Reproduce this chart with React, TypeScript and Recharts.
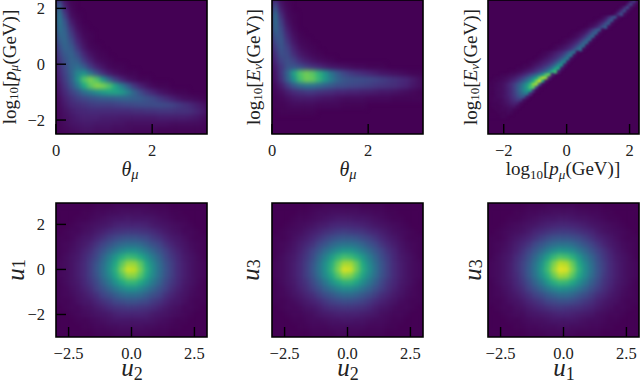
import { ScatterChart, Scatter, XAxis, YAxis, ReferenceArea } from "recharts";

const thetaTicks = [0, 2];
const logTicks = [-2, 0, 2];
const uXTicks = [-2.5, 0, 2.5];
const uYTicks = [-2, 0, 2];

const thetaRange = [0, 3.14];
const logRange = [-2.5, 2.3];
const uXRange = [-3, 3];
const uYRange = [-3, 2.95];

// colormap fraction (0-100) per cell, rows run top to bottom, missing cells are background
const thetaPmu = [
  [26, 7, 1],
  [34, 11, 2],
  [40, 18, 4, 1],
  [40, 26, 8, 2],
  [37, 30, 13, 4, 1],
  [33, 32, 18, 7, 2, 1],
  [28, 33, 23, 10, 4, 1],
  [23, 32, 28, 15, 6, 2, 1],
  [19, 28, 31, 22, 11, 5, 2, 1],
  [16, 25, 32, 29, 17, 9, 4, 2, 1],
  [13, 22, 32, 36, 28, 17, 9, 5, 2, 1, 1],
  [11, 20, 32, 46, 50, 38, 24, 13, 7, 4, 2, 1, 1],
  [9, 18, 30, 50, 72, 80, 72, 52, 32, 18, 10, 5, 3, 1, 1],
  [7, 15, 26, 40, 60, 74, 82, 80, 72, 58, 42, 28, 16, 9, 5, 2, 1, 1],
  [6, 12, 19, 26, 36, 42, 48, 54, 58, 58, 54, 44, 32, 22, 15, 10, 6, 4, 2, 1, 1],
  [4, 9, 14, 18, 21, 24, 26, 28, 29, 30, 31, 31, 30, 28, 25, 22, 17, 13, 9, 6, 4, 3, 2, 1],
  [3, 7, 11, 13, 15, 17, 18, 18, 18, 19, 20, 21, 22, 23, 23, 23, 23, 22, 20, 17, 14, 11, 8, 5],
  [2, 5, 8, 10, 11, 12, 12, 12, 12, 12, 12, 12, 13, 13, 14, 14, 15, 15, 15, 14, 14, 13, 10, 7],
  [2, 4, 6, 8, 9, 9, 9, 8, 8, 8, 7, 7, 7, 7, 7, 7, 8, 8, 8, 8, 8, 7, 6, 4],
  [1, 3, 5, 6, 7, 7, 6, 6, 6, 5, 5, 4, 4, 4, 4, 4, 4, 4, 3, 3, 3, 3, 3, 2],
  [1, 2, 3, 4, 5, 5, 4, 4, 4, 3, 3, 3, 2, 2, 2, 2, 1, 1, 1, 1, 1, 1, 1, 1],
];

const thetaEnu = [
  [18, 5, 1],
  [28, 8, 2],
  [36, 13, 3, 1],
  [36, 18, 5, 1],
  [34, 22, 8, 2],
  [28, 25, 11, 4, 1],
  [23, 27, 15, 6, 2, 1],
  [18, 26, 19, 9, 4, 2, 1],
  [14, 24, 22, 13, 7, 4, 2, 1],
  [11, 20, 24, 19, 12, 8, 5, 3, 2, 1],
  [8, 16, 25, 26, 23, 18, 14, 11, 8, 6, 5, 4, 3, 2, 2, 1, 1, 1],
  [6, 16, 32, 56, 72, 78, 74, 64, 52, 38, 28, 21, 17, 14, 12, 10, 8, 6, 5, 4, 3, 2, 1, 1],
  [5, 14, 30, 50, 70, 78, 76, 66, 54, 42, 32, 27, 25, 24, 23, 22, 20, 18, 16, 14, 12, 10, 7, 4],
  [3, 8, 17, 27, 34, 38, 37, 34, 30, 27, 24, 23, 21, 20, 19, 18, 16, 15, 14, 13, 11, 9, 6, 4],
  [2, 4, 8, 12, 14, 16, 16, 14, 13, 12, 10, 10, 9, 9, 8, 8, 7, 6, 6, 5, 4, 3, 2, 1],
  [1, 2, 4, 6, 7, 7, 7, 6, 5, 5, 4, 3, 3, 3, 3, 2, 2, 2, 2, 1, 1, 1, 1, 1],
  [1, 1, 2, 3, 3, 3, 3, 2, 2, 2, 2, 1, 1, 1, 1],
  [0, 1, 1, 1, 1, 1, 1],
];

// finer grid for the sharp diagonal edge; each row starts at the column in pmuEnuStart
const pmuEnuStart = [45, 44, 42, 41, 40, 36, 34, 32, 31, 29, 27, 26, 24, 23, 21, 20, 17, 16, 15, 13, 11, 9, 7, 4, 2, 1, 0, 0, 0, 0, 0, 0, 0, 0, 0, 0, 0];
const pmuEnu = [
  [8, 18, 3],
  [8, 20, 4],
  [3, 12, 22, 3],
  [4, 14, 24, 3],
  [4, 16, 24, 3],
  [2, 5, 12, 22, 26, 3],
  [1, 3, 6, 12, 24, 26, 2],
  [1, 2, 4, 8, 14, 24, 28, 2],
  [1, 3, 5, 9, 16, 26, 28, 2],
  [1, 3, 5, 10, 18, 27, 28, 2],
  [1, 2, 4, 6, 11, 19, 28, 30, 2],
  [1, 2, 4, 7, 12, 20, 29, 31, 2],
  [1, 2, 3, 5, 8, 13, 21, 30, 32, 2],
  [1, 2, 4, 6, 9, 14, 22, 31, 33, 2],
  [1, 2, 3, 5, 7, 10, 15, 23, 32, 34, 2],
  [1, 2, 4, 6, 8, 11, 16, 24, 33, 35, 2],
  [1, 2, 3, 5, 7, 9, 12, 17, 25, 34, 35, 2],
  [1, 2, 3, 5, 7, 10, 13, 18, 26, 36, 38, 3],
  [1, 2, 4, 6, 8, 11, 14, 19, 28, 38, 40, 3],
  [1, 2, 3, 5, 7, 9, 12, 16, 22, 31, 42, 44, 4],
  [1, 1, 2, 4, 6, 8, 11, 14, 18, 25, 35, 48, 50, 5],
  [1, 1, 2, 3, 5, 7, 10, 13, 17, 22, 29, 40, 55, 60, 6],
  [1, 1, 2, 3, 5, 7, 9, 12, 16, 21, 27, 34, 46, 62, 68, 7],
  [1, 1, 2, 3, 4, 6, 8, 11, 15, 20, 26, 33, 42, 55, 72, 76, 8],
  [1, 1, 2, 3, 4, 6, 8, 11, 15, 20, 27, 35, 45, 58, 76, 88, 82, 8],
  [1, 1, 2, 3, 4, 6, 9, 12, 17, 23, 30, 38, 48, 62, 80, 92, 60, 4],
  [1, 1, 2, 3, 4, 6, 9, 13, 18, 25, 33, 42, 52, 66, 82, 84, 30, 2],
  [1, 1, 2, 3, 4, 6, 9, 13, 19, 27, 36, 45, 56, 70, 74, 20, 1],
  [1, 1, 2, 3, 4, 6, 9, 13, 19, 27, 36, 45, 52, 56, 14, 1],
  [1, 1, 2, 3, 4, 6, 9, 13, 18, 25, 32, 38, 40, 10],
  [1, 1, 2, 3, 4, 6, 8, 12, 16, 21, 26, 24, 6],
  [1, 1, 2, 2, 3, 5, 7, 10, 13, 16, 14, 3],
  [0, 1, 1, 2, 3, 4, 6, 8, 9, 8, 2],
  [0, 1, 1, 1, 2, 3, 4, 5, 5, 2],
  [0, 0, 1, 1, 2, 2, 3, 3, 1],
  [0, 0, 0, 1, 1, 1, 2, 1],
  [0, 0, 0, 0, 1, 1],
];

const u2u1 = [
  [0, 0, 0, 0, 0, 0, 1, 1, 1, 2, 2, 2, 2, 2, 2, 1, 1, 1, 0, 0, 0, 0, 0, 0],
  [0, 0, 0, 0, 1, 1, 2, 2, 3, 3, 4, 4, 4, 4, 3, 3, 2, 2, 1, 1, 0, 0, 0, 0],
  [0, 0, 0, 1, 1, 2, 3, 4, 5, 6, 6, 7, 6, 6, 6, 5, 4, 3, 2, 1, 1, 0, 0, 0],
  [0, 0, 1, 2, 3, 4, 5, 6, 7, 9, 10, 10, 10, 10, 9, 7, 6, 5, 4, 3, 2, 1, 0, 0],
  [0, 1, 2, 2, 4, 5, 7, 9, 12, 14, 15, 16, 16, 15, 14, 12, 9, 7, 5, 4, 2, 2, 1, 0],
  [1, 1, 2, 4, 6, 7, 10, 14, 18, 21, 24, 25, 25, 23, 21, 17, 14, 10, 7, 6, 4, 2, 1, 1],
  [1, 2, 3, 5, 7, 10, 15, 20, 25, 30, 34, 36, 36, 34, 29, 24, 20, 14, 10, 7, 5, 3, 2, 1],
  [1, 2, 4, 6, 9, 13, 19, 26, 33, 40, 46, 50, 50, 45, 39, 32, 25, 19, 13, 9, 6, 4, 2, 1],
  [1, 3, 5, 7, 11, 16, 22, 32, 42, 52, 62, 68, 66, 60, 50, 40, 31, 22, 16, 11, 7, 5, 3, 1],
  [2, 3, 5, 8, 12, 18, 26, 36, 47, 60, 74, 84, 84, 74, 59, 46, 35, 25, 18, 12, 8, 5, 3, 2],
  [2, 3, 5, 8, 12, 18, 27, 37, 49, 63, 80, 92, 90, 78, 62, 48, 36, 26, 18, 12, 8, 5, 3, 2],
  [2, 3, 5, 8, 12, 18, 25, 36, 46, 59, 72, 82, 82, 72, 59, 46, 35, 25, 18, 12, 8, 5, 3, 2],
  [1, 3, 5, 7, 11, 16, 22, 31, 40, 50, 60, 66, 66, 60, 50, 40, 31, 22, 16, 11, 7, 5, 3, 1],
  [1, 2, 4, 6, 9, 13, 19, 25, 32, 39, 45, 50, 50, 45, 39, 32, 25, 19, 13, 9, 6, 4, 2, 1],
  [1, 2, 3, 5, 7, 10, 14, 20, 24, 29, 34, 36, 36, 34, 29, 24, 20, 14, 10, 7, 5, 3, 2, 1],
  [1, 1, 2, 4, 6, 7, 10, 14, 17, 21, 23, 25, 25, 23, 21, 17, 14, 10, 7, 6, 4, 2, 1, 1],
  [0, 1, 2, 2, 4, 5, 7, 9, 12, 14, 15, 16, 16, 15, 14, 12, 9, 7, 5, 4, 2, 2, 1, 0],
  [0, 0, 1, 2, 3, 4, 5, 6, 7, 9, 10, 10, 10, 10, 9, 7, 6, 5, 4, 3, 2, 1, 0, 0],
  [0, 0, 0, 1, 1, 2, 3, 4, 5, 6, 6, 6, 6, 6, 6, 5, 4, 3, 2, 1, 1, 0, 0, 0],
  [0, 0, 0, 0, 1, 1, 2, 2, 3, 3, 4, 4, 4, 4, 3, 3, 2, 2, 1, 1, 0, 0, 0, 0],
  [0, 0, 0, 0, 0, 0, 1, 1, 1, 2, 2, 2, 2, 2, 2, 1, 1, 1, 0, 0, 0, 0, 0, 0],
];

const u2u3 = [
  [0, 0, 0, 0, 0, 0, 1, 1, 2, 2, 2, 2, 2, 2, 1, 1, 1, 1, 0, 0, 0, 0, 0, 0],
  [0, 0, 0, 0, 1, 1, 2, 3, 3, 4, 4, 4, 4, 4, 3, 3, 2, 2, 1, 1, 0, 0, 0, 0],
  [0, 0, 0, 1, 2, 2, 3, 4, 5, 6, 7, 7, 7, 6, 6, 5, 4, 3, 2, 1, 1, 0, 0, 0],
  [0, 0, 1, 2, 3, 4, 5, 7, 8, 10, 11, 11, 11, 10, 9, 8, 6, 5, 4, 3, 2, 1, 0, 0],
  [0, 1, 2, 3, 4, 6, 8, 10, 13, 15, 17, 18, 17, 16, 15, 12, 10, 8, 6, 4, 3, 2, 1, 0],
  [1, 1, 2, 4, 6, 8, 11, 15, 19, 23, 26, 27, 27, 25, 22, 19, 15, 11, 8, 6, 4, 2, 1, 1],
  [1, 2, 3, 5, 8, 11, 15, 21, 26, 32, 36, 38, 38, 36, 31, 26, 21, 15, 11, 8, 5, 3, 2, 1],
  [1, 2, 4, 6, 9, 14, 20, 27, 35, 42, 48, 52, 52, 47, 41, 34, 27, 20, 14, 10, 6, 4, 2, 1],
  [1, 3, 5, 7, 11, 16, 23, 33, 43, 54, 64, 70, 68, 62, 52, 42, 32, 23, 17, 11, 7, 5, 3, 1],
  [2, 3, 5, 8, 12, 18, 26, 37, 49, 62, 76, 86, 86, 76, 60, 47, 36, 26, 18, 12, 8, 5, 3, 2],
  [2, 3, 5, 8, 12, 18, 27, 38, 50, 64, 80, 94, 92, 78, 62, 49, 37, 26, 18, 12, 8, 5, 3, 2],
  [2, 3, 5, 8, 12, 18, 25, 36, 47, 59, 72, 82, 80, 70, 57, 46, 35, 25, 18, 12, 8, 5, 3, 2],
  [1, 3, 5, 7, 11, 15, 22, 30, 39, 49, 58, 64, 64, 58, 48, 39, 30, 21, 15, 11, 7, 5, 3, 1],
  [1, 2, 4, 6, 9, 13, 18, 24, 31, 37, 43, 47, 47, 43, 37, 31, 24, 18, 13, 9, 6, 4, 2, 1],
  [1, 2, 3, 5, 7, 10, 13, 18, 23, 27, 31, 34, 34, 31, 27, 23, 18, 13, 10, 7, 5, 3, 2, 1],
  [1, 1, 2, 3, 5, 7, 9, 12, 16, 19, 21, 23, 23, 21, 19, 16, 12, 9, 7, 5, 3, 2, 1, 1],
  [0, 1, 2, 2, 3, 5, 6, 8, 11, 13, 14, 15, 15, 14, 13, 11, 8, 6, 5, 3, 2, 2, 1, 0],
  [0, 0, 1, 2, 2, 3, 4, 6, 7, 8, 9, 9, 9, 9, 8, 7, 6, 4, 3, 2, 2, 1, 0, 0],
  [0, 0, 0, 1, 1, 2, 3, 3, 4, 5, 5, 6, 6, 5, 5, 4, 3, 3, 2, 1, 1, 0, 0, 0],
  [0, 0, 0, 0, 1, 1, 2, 2, 2, 3, 3, 3, 3, 3, 3, 2, 2, 2, 1, 1, 0, 0, 0, 0],
  [0, 0, 0, 0, 0, 0, 1, 1, 1, 1, 2, 2, 2, 2, 1, 1, 1, 1, 0, 0, 0, 0, 0, 0],
];

const u1u3 = [
  [0, 0, 0, 0, 0, 0, 1, 1, 1, 2, 2, 2, 2, 2, 1, 1, 1, 1, 0, 0, 0, 0, 0, 0],
  [0, 0, 0, 0, 1, 1, 2, 2, 3, 3, 4, 4, 4, 4, 3, 3, 2, 2, 1, 1, 0, 0, 0, 0],
  [0, 0, 0, 1, 1, 2, 3, 4, 5, 6, 6, 7, 7, 6, 5, 5, 4, 3, 2, 1, 1, 0, 0, 0],
  [0, 0, 1, 2, 3, 4, 5, 6, 8, 9, 10, 11, 11, 10, 9, 8, 6, 5, 4, 3, 2, 1, 0, 0],
  [0, 1, 2, 3, 4, 5, 7, 10, 12, 14, 16, 17, 17, 16, 14, 12, 10, 7, 5, 4, 3, 2, 1, 0],
  [1, 1, 2, 4, 6, 8, 10, 14, 18, 22, 25, 26, 26, 24, 22, 18, 14, 10, 8, 6, 4, 2, 1, 1],
  [1, 2, 3, 5, 8, 11, 15, 21, 26, 31, 35, 37, 37, 35, 30, 25, 20, 15, 10, 7, 5, 3, 2, 1],
  [1, 2, 4, 6, 9, 14, 20, 27, 34, 42, 48, 52, 51, 47, 40, 33, 26, 19, 14, 9, 6, 4, 2, 1],
  [1, 3, 5, 7, 12, 17, 24, 33, 43, 55, 66, 72, 70, 63, 52, 41, 32, 23, 16, 11, 7, 5, 3, 1],
  [2, 3, 5, 8, 13, 19, 27, 38, 50, 65, 80, 90, 88, 76, 60, 47, 36, 25, 18, 12, 8, 5, 3, 2],
  [2, 3, 5, 8, 13, 19, 28, 39, 52, 68, 84, 96, 94, 80, 63, 49, 37, 26, 18, 12, 8, 5, 3, 2],
  [2, 3, 5, 8, 12, 18, 27, 37, 49, 62, 76, 86, 84, 73, 59, 47, 35, 25, 17, 12, 8, 5, 3, 2],
  [1, 3, 5, 7, 11, 16, 23, 32, 41, 52, 62, 67, 66, 59, 49, 40, 30, 22, 15, 11, 7, 5, 3, 1],
  [1, 2, 4, 6, 9, 13, 19, 25, 32, 39, 45, 49, 48, 44, 38, 31, 24, 18, 13, 9, 6, 4, 2, 1],
  [1, 2, 3, 5, 7, 10, 14, 19, 23, 28, 32, 35, 35, 32, 27, 23, 18, 13, 10, 7, 5, 3, 2, 1],
  [1, 1, 2, 4, 5, 7, 10, 13, 16, 20, 22, 24, 24, 22, 19, 16, 13, 9, 7, 5, 4, 2, 1, 1],
  [0, 1, 2, 2, 4, 5, 7, 9, 11, 13, 15, 16, 15, 14, 13, 11, 9, 7, 5, 4, 2, 2, 1, 0],
  [0, 0, 1, 2, 3, 3, 5, 6, 7, 8, 9, 10, 10, 9, 8, 7, 6, 4, 3, 2, 2, 1, 0, 0],
  [0, 0, 0, 1, 1, 2, 3, 4, 4, 5, 6, 6, 6, 6, 5, 4, 3, 3, 2, 1, 1, 0, 0, 0],
  [0, 0, 0, 0, 1, 1, 2, 2, 3, 3, 3, 4, 4, 3, 3, 3, 2, 2, 1, 1, 0, 0, 0, 0],
  [0, 0, 0, 0, 0, 0, 1, 1, 1, 2, 2, 2, 2, 2, 1, 1, 1, 1, 0, 0, 0, 0, 0, 0],
];

const viridis = ["#440154", "#482475", "#414487", "#355f8d", "#2a788e", "#21918c", "#22a884", "#44bf70", "#7ad151", "#bddf26", "#fde725"];

const serif = "Liberation Serif";
const plotW = 151;
const plotH = 134;

function hex(c: string, i: number) {
  return parseInt(c.slice(i, i + 2), 16);
}

function colormap(v: number) {
  const p = Math.min(v, 100) / 10;
  const i = Math.min(Math.floor(p), 9);
  const t = p - i;
  const a = viridis[i];
  const b = viridis[i + 1];
  const mix = (k: number) => Math.round(hex(a, k) + (hex(b, k) - hex(a, k)) * t);
  return `rgb(${mix(1)},${mix(3)},${mix(5)})`;
}

function toCells(grid: number[][], xr: number[], yr: number[], cols: number, rows: number, start?: number[]) {
  const dx = (xr[1] - xr[0]) / cols;
  const dy = (yr[1] - yr[0]) / rows;
  return grid.flatMap((row, j) =>
    row.map((v, i) => ({ x: xr[0] + (i + (start ? start[j] : 0) + 0.5) * dx, y: yr[1] - (j + 0.5) * dy, v }))
  );
}

function minus(v: number, digits: number) {
  const s = Math.abs(v).toFixed(digits);
  return v < 0 ? `\u2212${s}` : s;
}

function LogLabel({ x, y, sym, rotate, nu }: { x: number; y: number; sym: string; rotate?: boolean; nu?: boolean }) {
  return (
    <text
      x={x}
      y={y}
      textAnchor="middle"
      dominantBaseline={rotate ? "central" : "auto"}
      fontFamily={serif}
      fontSize={19}
      fill="#222"
      transform={rotate ? `rotate(-90 ${x} ${y})` : undefined}
    >
      log
      <tspan fontSize={13} dy={4}>10</tspan>
      <tspan dy={-4}>[</tspan>
      <tspan fontStyle="italic">{sym}</tspan>
      <tspan fontSize={13} dy={4} fontStyle="italic">{nu ? "\u03bd" : "\u03bc"}</tspan>
      <tspan dy={-4}>(GeV)]</tspan>
    </text>
  );
}

function SubLabel({ x, y, sym, sub, size, rotate }: { x: number; y: number; sym: string; sub: string; size: number; rotate?: boolean }) {
  return (
    <text
      x={x}
      y={y}
      textAnchor="middle"
      dominantBaseline={rotate ? "central" : "auto"}
      fontFamily={serif}
      fontSize={size}
      fill="#222"
      transform={rotate ? `rotate(-90 ${x} ${y})` : undefined}
    >
      <tspan fontStyle="italic">{sym}</tspan>
      <tspan fontSize={size * 0.72} dy={size * 0.14} fontStyle={sub === "\u03bc" ? "italic" : "normal"}>{sub}</tspan>
    </text>
  );
}

function XTick(p: any, digits: number) {
  return (
    <text x={p.x} y={p.y} textAnchor="middle" fontFamily={serif} fontSize={16.5} fill="#222">
      {minus(p.payload.value, digits)}
    </text>
  );
}

function YTick(p: any) {
  return (
    <text x={p.x} y={p.y} textAnchor="end" dominantBaseline="central" fontFamily={serif} fontSize={16.5} fill="#222">
      {minus(p.payload.value, 0)}
    </text>
  );
}

type PanelProps = {
  left: number;
  top: number;
  height: number;
  grid: number[][];
  start?: number[];
  cols?: number;
  rows?: number;
  xr: number[];
  yr: number[];
  xTicks: number[];
  yTicks: number[];
  digits: number;
  showY?: boolean;
  sharp?: boolean;
  children?: any;
};

function Panel({ left, top, height, grid, start, cols = 24, rows = 21, xr, yr, xTicks, yTicks, digits, showY, sharp, children }: PanelProps) {
  const marginTop = top === 0 ? 0 : 13;
  const cellW = plotW / cols + 0.6;
  const cellH = plotH / rows + 0.6;
  const Cell = (p: any) => (
    <rect x={p.cx - cellW / 2} y={p.cy - cellH / 2} width={cellW} height={cellH} fill={colormap(p.payload.v)} />
  );
  return (
    <div className={sharp ? "panel sharp" : "panel"} style={{ position: "absolute", left, top }}>
      <ScatterChart width={208} height={height} margin={{ top: marginTop, right: 1, bottom: 0, left: 0 }}>
        <XAxis
          type="number"
          dataKey="x"
          domain={xr}
          ticks={xTicks}
          allowDataOverflow
          axisLine={false}
          height={height - marginTop - plotH}
          tickSize={-10}
          tickMargin={32}
          tickLine={{ stroke: "#000", strokeWidth: 1.4 }}
          tick={(p: any) => XTick(p, digits)}
          interval={0}
          zIndex={900}
        />
        <YAxis
          type="number"
          dataKey="y"
          domain={yr}
          ticks={yTicks}
          allowDataOverflow
          axisLine={false}
          width={56}
          tickSize={-10}
          tickMargin={21}
          tickLine={{ stroke: "#000", strokeWidth: 1.4 }}
          tick={showY ? YTick : false}
          interval={0}
          zIndex={900}
        />
        <ReferenceArea x1={xr[0]} x2={xr[1]} y1={yr[0]} y2={yr[1]} fill="#440154" fillOpacity={1} stroke="none" />
        <Scatter data={toCells(grid, xr, yr, cols, rows, start)} shape={Cell} isAnimationActive={false} />
        <ReferenceArea x1={xr[0]} x2={xr[1]} y1={yr[0]} y2={yr[1]} fill="none" stroke="#000" strokeWidth={1.6} zIndex={950} />
        {children}
      </ScatterChart>
    </div>
  );
}

export default function App() {
  return (
    <div style={{ position: "fixed", left: 0, top: 0, width: 640, height: 382, overflow: "hidden", background: "#fff" }}>
      <style>{".panel .recharts-scatter { filter: blur(2px); } .panel.sharp .recharts-scatter { filter: blur(1.3px); }"}</style>
      <Panel left={0} top={0} height={190} grid={thetaPmu} xr={thetaRange} yr={logRange} xTicks={thetaTicks} yTicks={logTicks} digits={0} showY>
        <LogLabel x={9} y={67} sym="p" rotate />
        <SubLabel x={130} y={176} sym={"\u03b8"} sub={"\u03bc"} size={20} />
      </Panel>
      <Panel left={216} top={0} height={190} grid={thetaEnu} xr={thetaRange} yr={logRange} xTicks={thetaTicks} yTicks={logTicks} digits={0}>
        <LogLabel x={37} y={67} sym="E" rotate nu />
        <SubLabel x={132} y={176} sym={"\u03b8"} sub={"\u03bc"} size={20} />
      </Panel>
      <Panel left={432} top={0} height={190} grid={pmuEnu} start={pmuEnuStart} cols={48} rows={42} sharp xr={logRange} yr={logRange} xTicks={logTicks} yTicks={logTicks} digits={0}>
        <LogLabel x={38} y={67} sym="E" rotate nu />
        <LogLabel x={131} y={175} sym="p" />
      </Panel>
      <Panel left={0} top={190} height={192} grid={u2u1} xr={uXRange} yr={uYRange} xTicks={uXTicks} yTicks={uYTicks} digits={1} showY>
        <SubLabel x={15} y={80} sym="u" sub="1" size={25} rotate />
        <SubLabel x={132} y={186} sym="u" sub="2" size={25} />
      </Panel>
      <Panel left={216} top={190} height={192} grid={u2u3} xr={uXRange} yr={uYRange} xTicks={uXTicks} yTicks={uYTicks} digits={1}>
        <SubLabel x={34} y={80} sym="u" sub="3" size={25} rotate />
        <SubLabel x={132} y={186} sym="u" sub="2" size={25} />
      </Panel>
      <Panel left={432} top={190} height={192} grid={u1u3} xr={uXRange} yr={uYRange} xTicks={uXTicks} yTicks={uYTicks} digits={1}>
        <SubLabel x={40} y={80} sym="u" sub="3" size={25} rotate />
        <SubLabel x={132} y={186} sym="u" sub="1" size={25} />
      </Panel>
    </div>
  );
}
